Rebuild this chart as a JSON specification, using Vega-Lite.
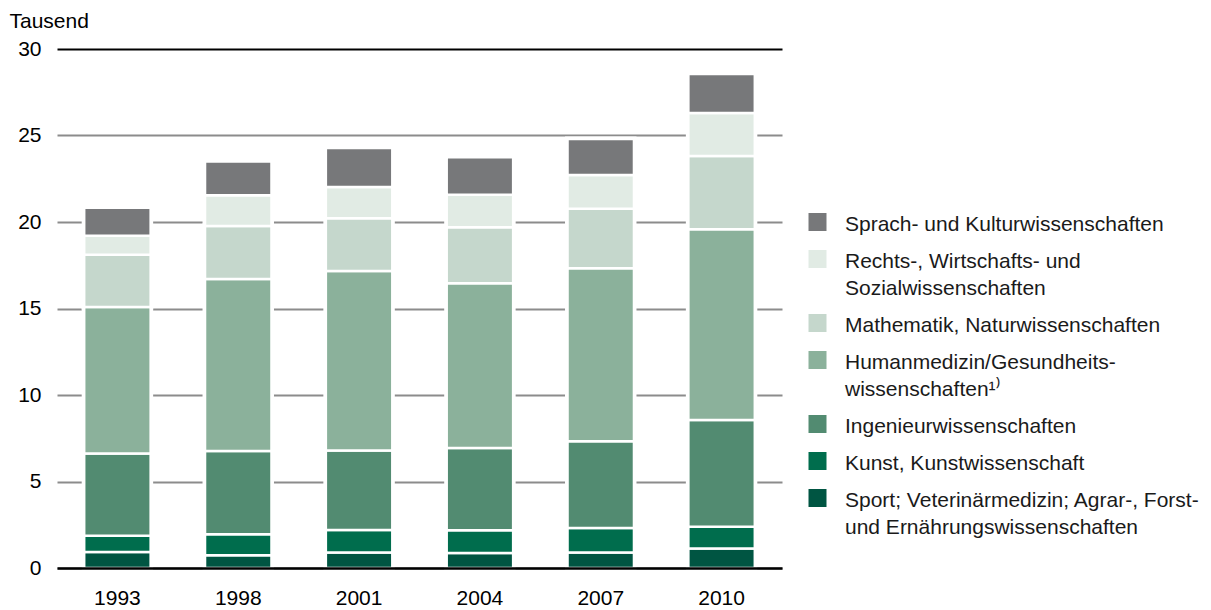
{
  "$schema": "https://vega.github.io/schema/vega-lite/v6.json",
  "width": 725,
  "height": 519,
  "autosize": "none",
  "padding": {"left": 57, "top": 49, "right": 429, "bottom": 42},
  "background": "white",
  "config": {
    "view": {"stroke": null},
    "font": "Liberation Sans",
    "style": {"guide-label": {"lineHeight": 27}}
  },
  "data": {
    "values": [
      {"year": "1993", "i": 1, "cat": "Sport; Veterinärmedizin; Agrar-, Forst-|und Ernährungswissenschaften", "v": 0.93},
      {"year": "1993", "i": 2, "cat": "Kunst, Kunstwissenschaft", "v": 0.94},
      {"year": "1993", "i": 3, "cat": "Ingenieurwissenschaften", "v": 4.75},
      {"year": "1993", "i": 4, "cat": "Humanmedizin/Gesundheits-|wissenschaften¹⁾", "v": 8.47},
      {"year": "1993", "i": 5, "cat": "Mathematik, Naturwissenschaften", "v": 3.01},
      {"year": "1993", "i": 6, "cat": "Rechts-, Wirtschafts- und|Sozialwissenschaften", "v": 1.10},
      {"year": "1993", "i": 7, "cat": "Sprach- und Kulturwissenschaften", "v": 1.63},
      {"year": "1998", "i": 1, "cat": "Sport; Veterinärmedizin; Agrar-, Forst-|und Ernährungswissenschaften", "v": 0.73},
      {"year": "1998", "i": 2, "cat": "Kunst, Kunstwissenschaft", "v": 1.22},
      {"year": "1998", "i": 3, "cat": "Ingenieurwissenschaften", "v": 4.82},
      {"year": "1998", "i": 4, "cat": "Humanmedizin/Gesundheits-|wissenschaften¹⁾", "v": 9.94},
      {"year": "1998", "i": 5, "cat": "Mathematik, Naturwissenschaften", "v": 3.06},
      {"year": "1998", "i": 6, "cat": "Rechts-, Wirtschafts- und|Sozialwissenschaften", "v": 1.78},
      {"year": "1998", "i": 7, "cat": "Sprach- und Kulturwissenschaften", "v": 1.94},
      {"year": "2001", "i": 1, "cat": "Sport; Veterinärmedizin; Agrar-, Forst-|und Ernährungswissenschaften", "v": 0.89},
      {"year": "2001", "i": 2, "cat": "Kunst, Kunstwissenschaft", "v": 1.31},
      {"year": "2001", "i": 3, "cat": "Ingenieurwissenschaften", "v": 4.59},
      {"year": "2001", "i": 4, "cat": "Humanmedizin/Gesundheits-|wissenschaften¹⁾", "v": 10.38},
      {"year": "2001", "i": 5, "cat": "Mathematik, Naturwissenschaften", "v": 3.05},
      {"year": "2001", "i": 6, "cat": "Rechts-, Wirtschafts- und|Sozialwissenschaften", "v": 1.81},
      {"year": "2001", "i": 7, "cat": "Sprach- und Kulturwissenschaften", "v": 2.25},
      {"year": "2004", "i": 1, "cat": "Sport; Veterinärmedizin; Agrar-, Forst-|und Ernährungswissenschaften", "v": 0.87},
      {"year": "2004", "i": 2, "cat": "Kunst, Kunstwissenschaft", "v": 1.31},
      {"year": "2004", "i": 3, "cat": "Ingenieurwissenschaften", "v": 4.76},
      {"year": "2004", "i": 4, "cat": "Humanmedizin/Gesundheits-|wissenschaften¹⁾", "v": 9.52},
      {"year": "2004", "i": 5, "cat": "Mathematik, Naturwissenschaften", "v": 3.24},
      {"year": "2004", "i": 6, "cat": "Rechts-, Wirtschafts- und|Sozialwissenschaften", "v": 1.87},
      {"year": "2004", "i": 7, "cat": "Sprach- und Kulturwissenschaften", "v": 2.17},
      {"year": "2007", "i": 1, "cat": "Sport; Veterinärmedizin; Agrar-, Forst-|und Ernährungswissenschaften", "v": 0.89},
      {"year": "2007", "i": 2, "cat": "Kunst, Kunstwissenschaft", "v": 1.42},
      {"year": "2007", "i": 3, "cat": "Ingenieurwissenschaften", "v": 5.02},
      {"year": "2007", "i": 4, "cat": "Humanmedizin/Gesundheits-|wissenschaften¹⁾", "v": 10.00},
      {"year": "2007", "i": 5, "cat": "Mathematik, Naturwissenschaften", "v": 3.43},
      {"year": "2007", "i": 6, "cat": "Rechts-, Wirtschafts- und|Sozialwissenschaften", "v": 1.95},
      {"year": "2007", "i": 7, "cat": "Sprach- und Kulturwissenschaften", "v": 2.09},
      {"year": "2010", "i": 1, "cat": "Sport; Veterinärmedizin; Agrar-, Forst-|und Ernährungswissenschaften", "v": 1.12},
      {"year": "2010", "i": 2, "cat": "Kunst, Kunstwissenschaft", "v": 1.27},
      {"year": "2010", "i": 3, "cat": "Ingenieurwissenschaften", "v": 6.16},
      {"year": "2010", "i": 4, "cat": "Humanmedizin/Gesundheits-|wissenschaften¹⁾", "v": 11.03},
      {"year": "2010", "i": 5, "cat": "Mathematik, Naturwissenschaften", "v": 4.23},
      {"year": "2010", "i": 6, "cat": "Rechts-, Wirtschafts- und|Sozialwissenschaften", "v": 2.49},
      {"year": "2010", "i": 7, "cat": "Sprach- und Kulturwissenschaften", "v": 2.26}
    ]
  },
  "encoding": {
    "x": {
      "field": "year",
      "type": "ordinal",
      "scale": {"paddingInner": 0.45, "paddingOuter": 0.225},
      "axis": {
        "title": null,
        "labelAngle": 0,
        "ticks": false,
        "tickSize": 0,
        "domainColor": "black",
        "domainWidth": 2.5,
        "labelPadding": 19,
        "labelFontSize": 21,
        "labelColor": "black",
        "labelFont": "Liberation Sans",
        "zindex": 1
      }
    },
    "y": {
      "field": "v",
      "type": "quantitative",
      "stack": "zero",
      "scale": {"domain": [0, 30], "nice": false},
      "axis": {
        "values": [0, 5, 10, 15, 20, 25, 30],
        "domain": false,
        "ticks": false,
        "tickSize": 0,
        "labelPadding": 16,
        "labelFontSize": 21,
        "labelColor": "black",
        "labelFont": "Liberation Sans",
        "gridColor": {"condition": {"test": "datum.value === 30", "value": "black"}, "value": "#8c8c8c"},
        "gridWidth": 2,
        "title": "Tausend",
        "titleAngle": 0,
        "titleAlign": "left",
        "titleBaseline": "alphabetic",
        "titleX": -48,
        "titleY": -22,
        "titleFontSize": 21,
        "titleFontWeight": "normal",
        "titleColor": "black",
        "titleFont": "Liberation Sans"
      }
    },
    "order": {"field": "i", "type": "quantitative"}
  },
  "layer": [
    {
      "mark": {"type": "bar", "fill": "white", "stroke": "white", "strokeWidth": 5},
      "encoding": {"detail": {"field": "cat", "type": "nominal"}}
    },
    {
      "mark": {"type": "bar", "stroke": "white", "strokeWidth": 2.5},
      "encoding": {
        "color": {
          "field": "cat",
          "type": "nominal",
          "scale": {
            "domain": [
              "Sprach- und Kulturwissenschaften",
              "Rechts-, Wirtschafts- und|Sozialwissenschaften",
              "Mathematik, Naturwissenschaften",
              "Humanmedizin/Gesundheits-|wissenschaften¹⁾",
              "Ingenieurwissenschaften",
              "Kunst, Kunstwissenschaft",
              "Sport; Veterinärmedizin; Agrar-, Forst-|und Ernährungswissenschaften"
            ],
            "range": ["#77787a", "#e1ebe4", "#c5d7cc", "#8bb19b", "#528b71", "#006d4d", "#005542"]
          },
          "legend": {
            "orient": "none",
            "legendX": 750,
            "legendY": 154,
            "title": null,
            "padding": 0,
            "symbolType": "M-1,-0.056H1V1.944H-1Z",
            "symbolSize": 324,
            "symbolStrokeWidth": 0,
            "symbolOpacity": 1,
            "labelFontSize": 21,
            "labelFont": "Liberation Sans",
            "labelColor": "#1a1a1a",
            "labelLimit": 500,
            "labelOffset": 17,
            "labelBaseline": "top",
            "rowPadding": 5,
            "labelExpr": "split(datum.label, '|')"
          }
        }
      }
    }
  ]
}
